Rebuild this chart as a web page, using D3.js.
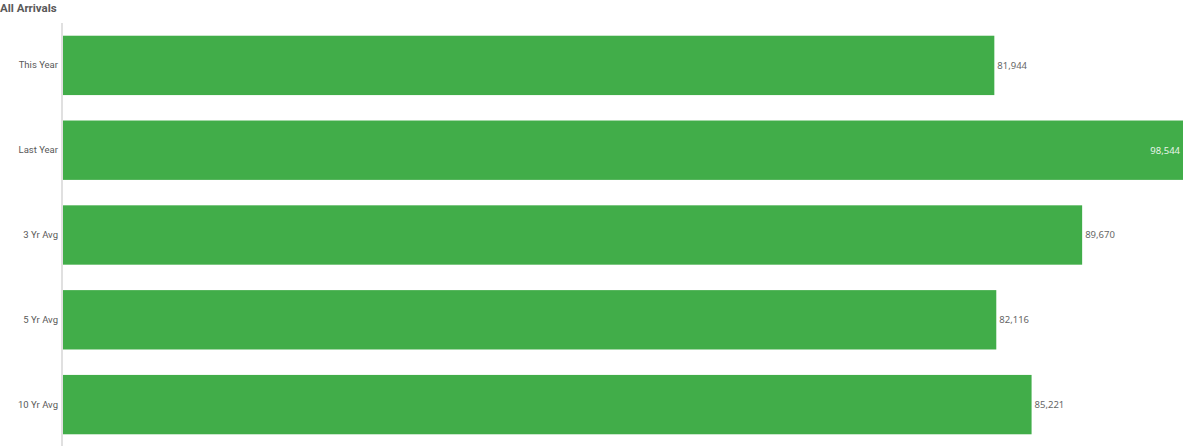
<!DOCTYPE html>
<html>
<head>
<meta charset="utf-8">
<script src="https://cdn.jsdelivr.net/npm/d3@7"></script>
<style>
  body { margin: 0; background: #fff; }
  svg { display: block; font-family: Roboto, "Noto Sans", sans-serif; }
</style>
</head>
<body>
<script>
const categories = ['This Year', 'Last Year', '3 Yr Avg', '5 Yr Avg', '10 Yr Avg'];
const values = [81944, 98544, 89670, 82116, 85221];

const w = 1200;
const h = 446;
const left = 63;
const right = 1183;

const dataset = categories.map((c, i) => ({ cat: c, val: values[i] }));

const xScale = d3.scaleLinear()
                 .domain([0, d3.max(values)])
                 .range([left, right]);

const yScale = d3.scaleBand()
                 .domain(categories)
                 .range([23, 447])
                 .paddingInner(0.3)
                 .paddingOuter(0.15);

const svg = d3.select('body')
              .append('svg')
              .attr('width', w)
              .attr('height', h);

svg.append('text')
   .text('All Arrivals')
   .attr('x', 0)
   .attr('y', 12)
   .attr('font-size', 11.5)
   .attr('font-weight', 'bold')
   .attr('fill', '#595959');

svg.selectAll('rect')
   .data(dataset)
   .enter()
   .append('rect')
   .attr('x', xScale(0))
   .attr('y', (d) => yScale(d.cat))
   .attr('width', (d) => xScale(d.val) - xScale(0))
   .attr('height', yScale.bandwidth())
   .attr('fill', '#41ad49');

const yAxis = d3.axisLeft(yScale).tickSize(0).tickPadding(4);
const gy = svg.append('g')
   .attr('transform', 'translate(' + (left - 1) + ', 0)')
   .call(yAxis);
gy.select('.domain').attr('stroke', '#e0e0e0').attr('stroke-width', 2)
  .attr('d', 'M0,23V446');
gy.selectAll('text').attr('font-size', 9.5).attr('fill', '#595959')
  .attr('font-family', 'Roboto, sans-serif');

const fmt = d3.format(',');
const inside = (d) => xScale(d.val) + 50 > w;
svg.selectAll('.val')
   .data(dataset)
   .enter()
   .append('text')
   .attr('class', 'val')
   .text((d) => fmt(d.val))
   .attr('x', (d) => inside(d) ? xScale(d.val) - 3 : xScale(d.val) + 3)
   .attr('text-anchor', (d) => inside(d) ? 'end' : 'start')
   .attr('y', (d) => yScale(d.cat) + yScale.bandwidth() / 2)
   .attr('dy', '0.35em')
   .attr('font-size', 9.5)
   .attr('font-family', '"Noto Sans", sans-serif')
   .attr('fill', (d) => inside(d) ? '#e8f5e9' : '#666666');
</script>
</body>
</html>
